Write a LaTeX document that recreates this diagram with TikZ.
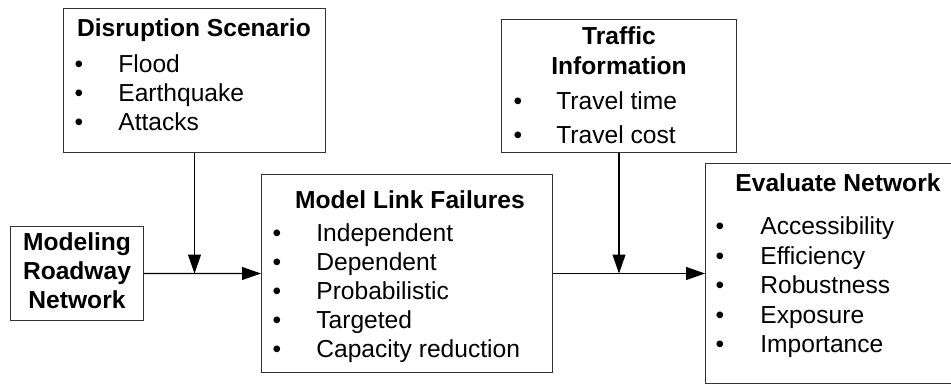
\documentclass[tikz,border=0pt]{standalone}
\usepackage{fontspec}
\setmainfont{Liberation Sans}
\usetikzlibrary{arrows.meta}

\begin{document}
\begin{tikzpicture}[x=0.02cm, y=-0.02cm,
    box/.style={draw=black!80, line width=0.6pt, inner sep=0pt, anchor=north west},
    head/.style={anchor=base, inner sep=0pt, font=\bfseries\fontsize{14}{16}\selectfont},
    dot/.style={anchor=base, inner sep=0pt, font=\fontsize{14}{16}\selectfont},
    item/.style={anchor=base west, inner sep=0pt, font=\fontsize{14}{16}\selectfont},
    flow/.style={line width=0.6pt, -{Triangle[length=0.38cm, width=0.26cm]}}]

    \useasboundingbox (0,0) rectangle (951,384);

    % Boxes
    \node[box, minimum width=5.24cm, minimum height=2.88cm] (disr) at (63,8) {};
    \node[box, minimum width=2.66cm, minimum height=1.88cm] (road) at (10,226) {};
    \node[box, minimum width=5.82cm, minimum height=3.96cm] (fail) at (261,174) {};
    \node[box, minimum width=4.70cm, minimum height=2.66cm] (traf) at (501,19) {};
    \node[box, minimum width=5.32cm, minimum height=4.40cm] (eval) at (705,163) {};

    % Disruption scenario
    \node[head] (disrhead) at (194,37) {Disruption Scenario};
    \foreach \txt [count=\i] in {Flood, Earthquake, Attacks} {
        \node[dot] (disrdot\i) at (79,44+29*\i) {\textbullet};
        \node[item] (disritem\i) at (118,44+29*\i) {\txt};
    }

    % Roadway network
    \foreach \txt/\yy [count=\i] in {Modeling/251, Roadway/280, Network/309} {
        \node[head] (roadhead\i) at (77,\yy) {\txt};
    }

    % Link failures
    \node[head] (failhead) at (410,209) {Model Link Failures};
    \foreach \txt [count=\i] in {Independent, Dependent, Probabilistic, Targeted, Capacity reduction} {
        \node[dot] (faildot\i) at (277,213+29*\i) {\textbullet};
        \node[item] (failitem\i) at (316,213+29*\i) {\txt};
    }

    % Traffic information
    \node[head] (trafhead1) at (619,45) {Traffic};
    \node[head] (trafhead2) at (619,75) {Information};
    \foreach \txt/\yy [count=\i] in {Travel time/110, Travel cost/144} {
        \node[dot] (trafdot\i) at (518,\yy) {\textbullet};
        \node[item] (trafitem\i) at (556,\yy) {\txt};
    }

    % Evaluation
    \node[head] (evalhead) at (838,192) {Evaluate Network};
    \foreach \txt [count=\i] in {Accessibility, Efficiency, Robustness, Exposure, Importance} {
        \node[dot] (evaldot\i) at (720,205.5+29.5*\i) {\textbullet};
        \node[item] (evalitem\i) at (760,205.5+29.5*\i) {\txt};
    }

    % Flow
    \coordinate (join1) at (disr.south |- road.east);
    \coordinate (join2) at (traf.south |- fail.east);
    \draw[flow] (disr.south) -- (join1);
    \draw[flow] (road.east) -- (fail.west);
    \draw[flow] (traf.south) -- (join2);
    \draw[flow] (fail.east) -- (eval.west |- fail.east);
\end{tikzpicture}
\end{document}
